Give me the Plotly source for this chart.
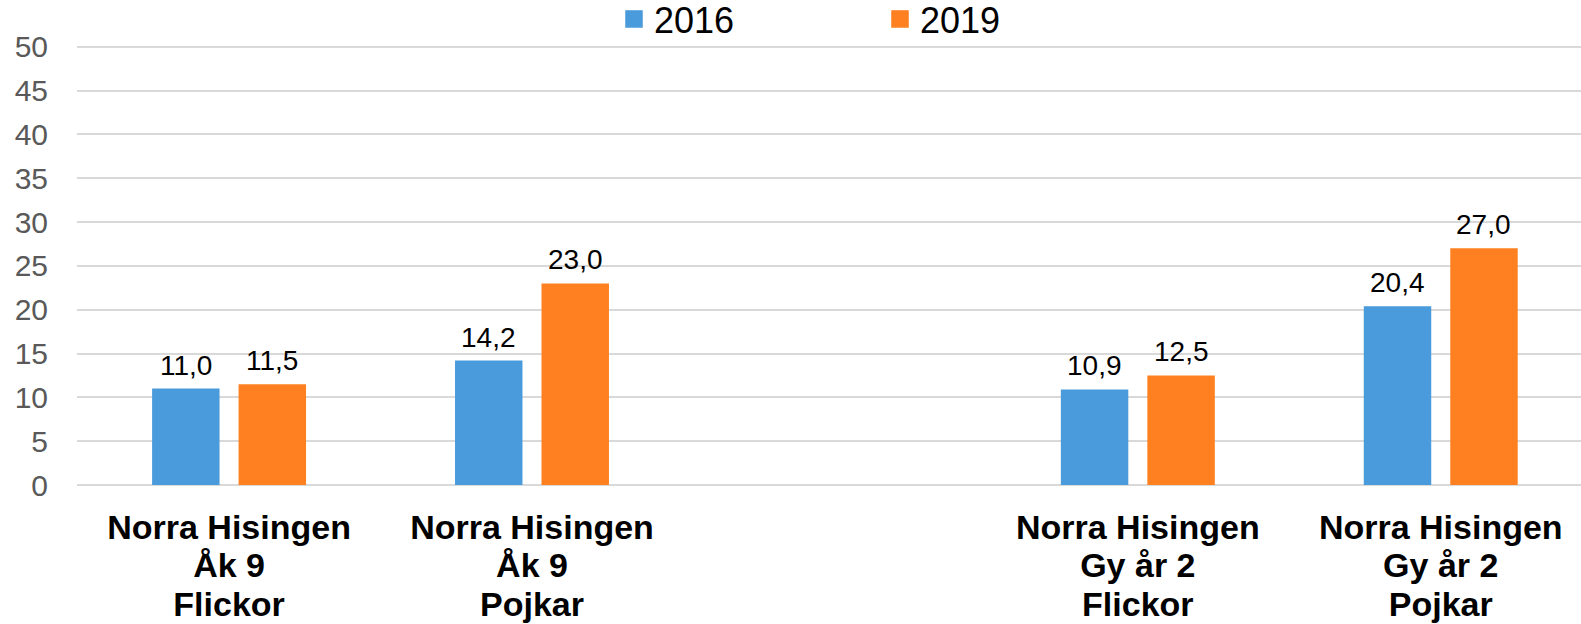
import plotly.graph_objects as go

label_line1 = ["Norra Hisingen", "Norra Hisingen", "", "Norra Hisingen", "Norra Hisingen"]
label_line2 = ["Åk 9", "Åk 9", "", "Gy år 2", "Gy år 2"]
label_line3 = ["Flickor", "Pojkar", "", "Flickor", "Pojkar"]
positions = [0, 1, 2, 3, 4]
values_2016 = [11.0, 14.2, None, 10.9, 20.4]
values_2019 = [11.5, 23.0, None, 12.5, 27.0]
series_names = ["2016", "2019"]
colors = ["#4A9BDB", "#FF8020"]

bargap = 0.429
fig = go.Figure()
for name, vals, col in zip(series_names, [values_2016, values_2019], colors):
    fig.add_trace(go.Bar(x=positions, y=vals, name=name, marker_color=col,
                         marker_line_width=0, showlegend=False))
# legend entries (square symbols)
for name, col in zip(series_names, colors):
    fig.add_trace(go.Scatter(x=[None], y=[None], mode="markers", name=name,
                             marker=dict(symbol="square", size=16, color=col,
                                         line=dict(color=col, width=1.5))))
# invisible traces so the extra label axes (2nd and 3rd label lines) are drawn
for ax in ["x2", "x3"]:
    fig.add_trace(go.Scatter(x=positions, y=[0] * len(positions), xaxis=ax, yaxis="y",
                             mode="markers", marker=dict(opacity=0, size=1),
                             showlegend=False, hoverinfo="skip"))

# value labels
offset = (1 - bargap) / 4
for i, (name, vals) in enumerate(zip(series_names, [values_2016, values_2019])):
    for p, v in zip(positions, vals):
        if v is None:
            continue
        fig.add_annotation(x=p + (-offset if i == 0 else offset), y=v, xref="x", yref="y",
                           text=f"{v:.1f}".replace(".", ","), showarrow=False,
                           yanchor="bottom", yshift=6,
                           font=dict(family="Liberation Sans, Arial", size=28, color="#000000"))

xrange = [-0.502, 4.463]
label_font = dict(family="Liberation Sans, Arial", size=34, color="#000000", weight="bold")


def label_axis(texts, standoff, extra=None):
    d = dict(tickmode="array", tickvals=positions, ticktext=texts, range=xrange,
             showgrid=False, zeroline=False, showline=False, ticks="",
             ticklabelstandoff=standoff, tickfont=label_font, fixedrange=True)
    if extra:
        d.update(extra)
    return d


fig.update_layout(
    width=1581, height=624,
    margin=dict(l=77, r=0, t=45, b=138.5, autoexpand=False),
    paper_bgcolor="white", plot_bgcolor="white",
    barmode="group", bargap=bargap, bargroupgap=0.22,
    font=dict(family="Liberation Sans, Arial", color="#000000"),
    showlegend=True,
    legend=dict(orientation="h", xref="container", yref="container",
                x=614 / 1581, xanchor="left", y=1 - 19 / 624, yanchor="middle",
                font=dict(size=36, color="#000000"), entrywidth=221, itemwidth=30,
                bgcolor="rgba(0,0,0,0)"),
    xaxis=label_axis(label_line1, 19),
    xaxis2=label_axis(label_line2, 57, dict(overlaying="x", matches="x", anchor="y", side="bottom")),
    xaxis3=label_axis(label_line3, 96, dict(overlaying="x", matches="x", anchor="y", side="bottom")),
    yaxis=dict(range=[0, 50.2], tickmode="linear", tick0=0, dtick=5, showgrid=True,
               gridcolor="#D9D9D9", gridwidth=2, fixedrange=True,
               zeroline=True, zerolinecolor="#D9D9D9", zerolinewidth=2, showline=False,
               ticks="", ticklabelstandoff=28,
               tickfont=dict(family="Liberation Sans, Arial", size=30, color="#595959")),
)

fig.write_html("out.html", config={"displayModeBar": False},
               post_script="document.body.style.margin='0px';")
